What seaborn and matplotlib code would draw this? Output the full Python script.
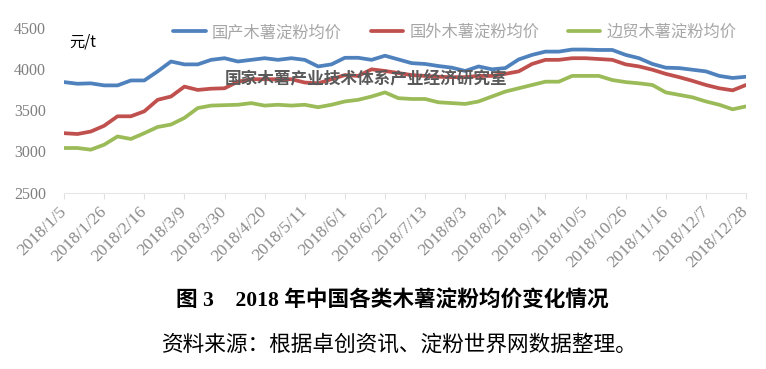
import matplotlib
matplotlib.use('Agg')
import matplotlib.pyplot as plt
from matplotlib.lines import Line2D
import seaborn as sns
import pandas as pd

# weekly prices, 2018/1/5 .. 2018/12/28 (52 weeks), yuan per tonne
week = list(range(52))
tick_labels = ['2018/1/5', '2018/1/26', '2018/2/16', '2018/3/9', '2018/3/30', '2018/4/20',
               '2018/5/11', '2018/6/1', '2018/6/22', '2018/7/13', '2018/8/3', '2018/8/24',
               '2018/9/14', '2018/10/5', '2018/10/26', '2018/11/16', '2018/12/7', '2018/12/28']

domestic = [3840, 3820, 3825, 3800, 3800, 3860, 3860, 3970, 4090, 4055,
            4055, 4110, 4130, 4090, 4110, 4130, 4110, 4130, 4110, 4030,
            4055, 4135, 4135, 4110, 4160, 4115, 4070, 4060, 4035, 4015,
            3975, 4030, 3995, 4010, 4115, 4170, 4210, 4210, 4235, 4235,
            4230, 4230, 4170, 4130, 4060, 4015, 4010, 3990, 3970, 3915,
            3890, 3905]
imported = [3220, 3210, 3240, 3310, 3425, 3425, 3485, 3625, 3665, 3785,
            3745, 3760, 3765, 3845, 3875, 3875, 3875, 3875, 3835, 3825,
            3875, 3925, 3915, 3995, 3975, 3950, 3925, 3915, 3905, 3900,
            3900, 3915, 3915, 3940, 3970, 4060, 4110, 4110, 4130, 4130,
            4120, 4110, 4055, 4030, 3990, 3940, 3900, 3855, 3805, 3765,
            3740, 3805]
border = [3040, 3040, 3020, 3080, 3180, 3150, 3220, 3295, 3325, 3405,
          3525, 3555, 3560, 3565, 3585, 3555, 3565, 3555, 3565, 3535,
          3565, 3605, 3625, 3665, 3715, 3645, 3635, 3635, 3595, 3585,
          3575, 3605, 3665, 3725, 3765, 3805, 3845, 3845, 3915, 3915,
          3915, 3865, 3840, 3825, 3805, 3715, 3685, 3655, 3605, 3565,
          3510, 3545]

names = ['国产木薯淀粉均价', '国外木薯淀粉均价', '边贸木薯淀粉均价']
colors = ['#4F81BD', '#C0504D', '#9BBB59']

sns.set_style('white')
plt.rcParams['font.family'] = ['Liberation Serif', 'Noto Sans CJK SC']

df = pd.DataFrame({'week': week, names[0]: domestic, names[1]: imported, names[2]: border})
df = df.melt(id_vars='week', var_name='series', value_name='price')

fig = plt.figure(figsize=(7.66, 3.69), dpi=100)
ax = fig.add_axes([0.0836, 0.4783, 0.8903, 0.4466])
sns.lineplot(data=df, x='week', y='price', hue='series', hue_order=names,
             palette=colors, linewidth=2.7, ax=ax, legend=False)

ax.set_xlim(0, 51)
ax.set_ylim(2500, 4500)
ax.set_yticks(range(2500, 5000, 500))
ax.set_xticks(range(0, 52, 3))
ax.set_xticklabels(tick_labels, rotation=45, ha='right', va='center', rotation_mode='anchor')
ax.set_xlabel('')
ax.set_ylabel('')
for s in ['top', 'right', 'left']:
    ax.spines[s].set_visible(False)
ax.spines['bottom'].set_color('#e6e6e6')
ax.tick_params(axis='x', colors='#e0e0e0', labelcolor='#8a8a8a', length=4, width=0.8,
               labelsize=12.5, pad=8, direction='out', bottom=True)
ax.tick_params(axis='y', labelcolor='#7f7f7f', labelsize=11.5, length=0, pad=13)

handles = [Line2D([], [], color=c, linewidth=2.7) for c in colors]
leg = fig.legend(handles, names, loc='center', bbox_to_anchor=(0.594, 0.912), ncol=3,
                 frameon=False, handlelength=2.0, handletextpad=0.4,
                 columnspacing=1.75, prop={'family': ['Noto Sans CJK SC'], 'size': 11.7})
for t in leg.get_texts():
    t.set_color('#a6a6a6')

fig.text(0.108, 0.886, '元/t', fontsize=11, color='black', ha='center', va='center',
         family=['Noto Sans CJK SC', 'DejaVu Sans'])
fig.text(0.478, 0.786, '国家木薯产业技术体系产业经济研究室', fontsize=12, color='#595959',
         ha='center', va='center', fontweight='bold', family=['Noto Sans CJK SC'])

fig.text(0.512, 0.185, '图 3　2018 年中国各类木薯淀粉均价变化情况', fontsize=15.6,
         fontweight='bold', ha='center', va='center', color='black')
fig.text(0.522, 0.065, '资料来源：根据卓创资讯、淀粉世界网数据整理。', fontsize=15.6,
         ha='center', va='center', color='black', family=['Noto Sans CJK SC'])

fig.savefig('out.png', dpi=100)
